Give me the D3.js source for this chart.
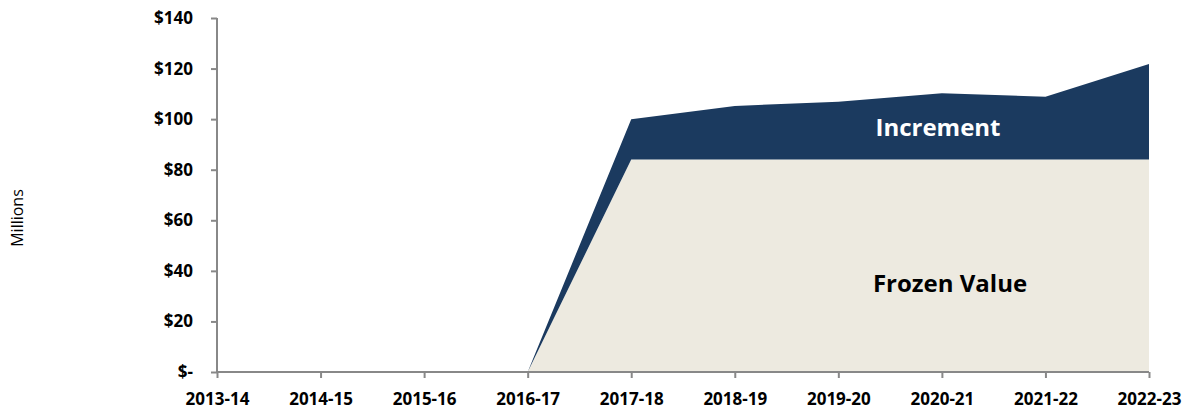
<!DOCTYPE html>
<html><head><meta charset="utf-8">
<script src="https://cdn.jsdelivr.net/npm/d3@7"></script>
<style>body{margin:0;background:#fff;} svg{display:block;}</style>
</head><body>
<script>
const categories = ["2013-14","2014-15","2015-16","2016-17","2017-18","2018-19","2019-20","2020-21","2021-22","2022-23"];
const frozenValue = [0,0,0,0,84,84,84,84,84,84];
const increment = [0,0,0,0,16,21.2,22.9,26.2,24.9,37.8];
const yTicks = [0,20,40,60,80,100,120,140];
const seriesNames = ["Frozen Value","Increment"];

const W=1190,H=411;
const svg=d3.select("body").append("svg").attr("width",W).attr("height",H);
const x=d3.scalePoint().domain(categories).range([217,1149]);
const y=d3.scaleLinear().domain([0,140]).range([372,18]);

const rows=categories.map((c,i)=>({cat:c,"Frozen Value":frozenValue[i],"Increment":increment[i]}));
const stack=d3.stack().keys(seriesNames)(rows);
const colors={"Frozen Value":"#EDEAE0","Increment":"#1B3A5F"};
const area=d3.area().x(d=>x(d.data.cat)).y0(d=>y(d[0])).y1(d=>y(d[1]));
svg.selectAll("path.a").data(stack).join("path").attr("class","a")
  .attr("d",area).attr("fill",d=>colors[d.key]);

const font="'Open Sans', sans-serif";
// y axis
const ya=svg.append("g").attr("transform","translate(217,0)")
  .call(d3.axisLeft(y).tickValues(yTicks).tickSize(6).tickPadding(18)
    .tickFormat(d=>d===0?"$-":"$"+d));
ya.select(".domain").attr("stroke","#888").attr("stroke-width",2).attr("d","M0,18V372");
ya.selectAll(".tick line").attr("stroke","#888").attr("stroke-width",2);
ya.selectAll("text").attr("font-family",font).attr("font-weight","bold").attr("font-size",17).attr("fill","#000");

const xa=svg.append("g").attr("transform","translate(0,372)")
  .call(d3.axisBottom(x).tickSize(6).tickPadding(15));
xa.select(".domain").attr("stroke","#888").attr("stroke-width",2).attr("d","M217,0H1149");
xa.selectAll(".tick line").attr("stroke","#888").attr("stroke-width",2);
xa.selectAll("text").attr("font-family",font).attr("font-weight","bold").attr("font-size",17).attr("fill","#000");

svg.append("text").attr("transform","translate(23,218) rotate(-90)").attr("text-anchor","middle")
  .attr("font-family",font).attr("font-size",16).attr("fill","#000").text("Millions");

svg.append("text").attr("x",938).attr("y",136).attr("text-anchor","middle")
  .attr("font-family",font).attr("font-weight","bold").attr("font-size",24).attr("fill","#fff").text("Increment");
svg.append("text").attr("x",950).attr("y",292).attr("text-anchor","middle")
  .attr("font-family",font).attr("font-weight","bold").attr("font-size",24).attr("fill","#000").text("Frozen Value");
</script>
</body></html>
